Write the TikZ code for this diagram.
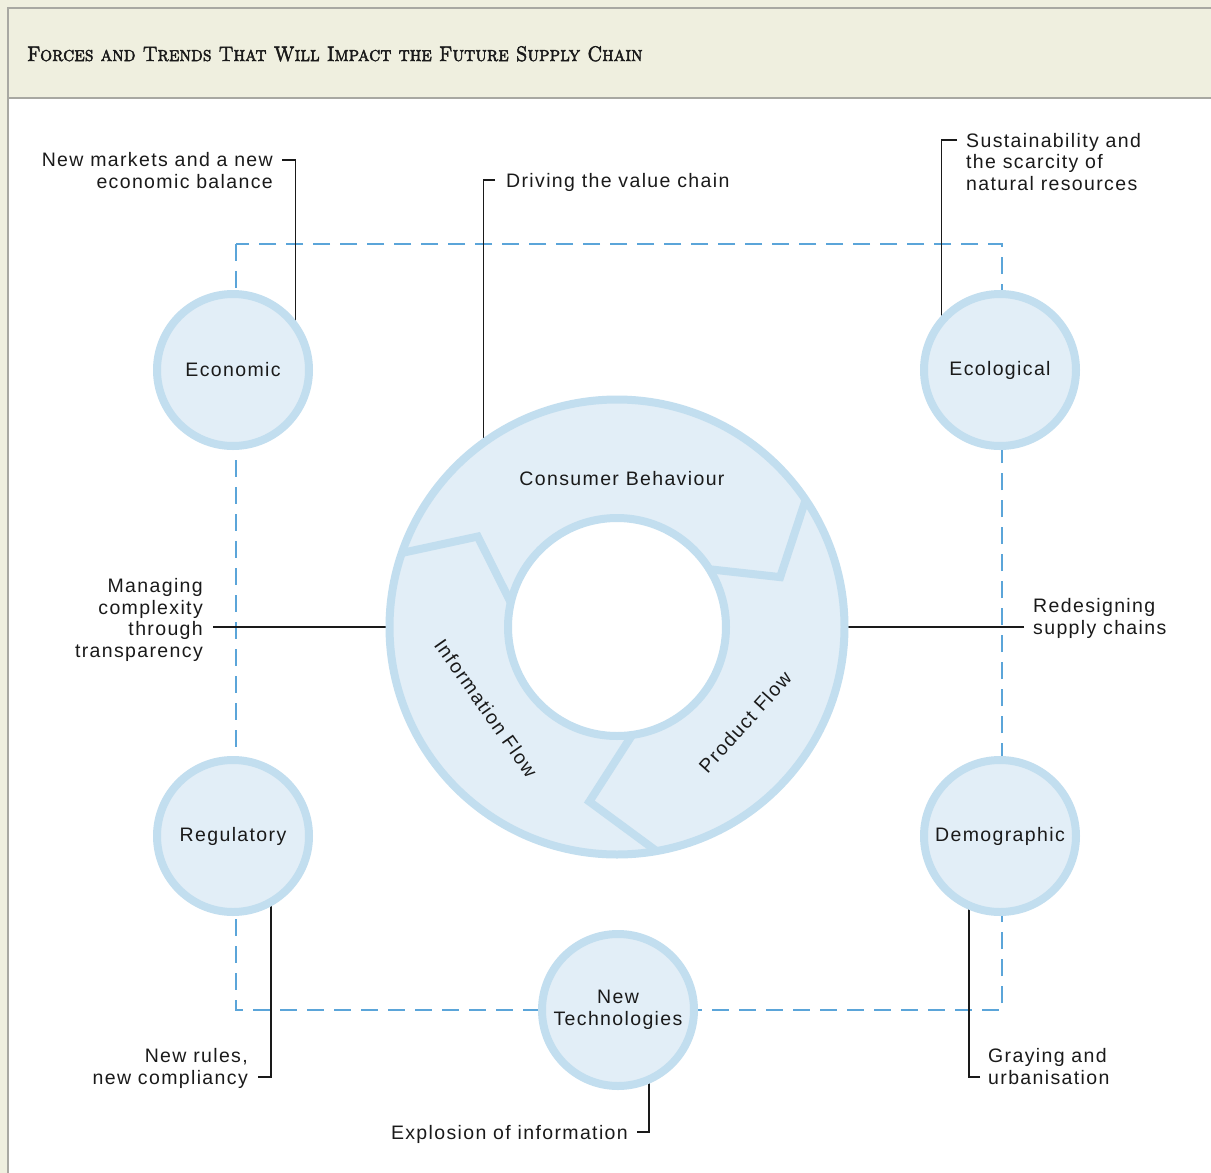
\documentclass[tikz,border=0pt]{standalone}
\usepackage{fontspec}
\usepackage{tikz}
\usetikzlibrary{calc,positioning}
\newfontfamily\labelfont[LetterSpace=7]{Liberation Sans}
\newcommand\lblsize{\fontsize{19.5}{21.5}\selectfont}
\newcommand\fakebold[1]{\special{pdf:literal direct 2 Tr 0.5 w}#1\special{pdf:literal direct 0 Tr}}
\definecolor{colorring}{HTML}{C2DEEF}
\definecolor{colorfill}{HTML}{E2EEF7}
\definecolor{colordash}{HTML}{5BA5D9}
\definecolor{colorhead}{HTML}{EFEFDF}
\definecolor{colorrule}{HTML}{A8A8A2}
\definecolor{colortext}{HTML}{1A1A1A}
\pgfdeclarelayer{bglayer}
\pgfdeclarelayer{leaderlayer}
\pgfsetlayers{bglayer,leaderlayer,main}
\tikzset{
  lbl/.style={inner sep=0pt, text=colortext, font=\labelfont\lblsize},
  force/.style={circle, draw=colorring, fill=colorfill, line width=8pt, minimum size=152pt,
    outer sep=0pt, inner sep=0pt, align=center, text=colortext, font=\labelfont\lblsize},
  wheel/.style={circle, draw=colorring, line width=8pt, outer sep=0pt, inner sep=0pt},
  divider/.style={colorring, line width=8pt, line join=miter},
  leader/.style={colortext, line width=1.2pt},
  dashframe/.style={colordash, line width=2pt, dash pattern=on 17pt off 10pt}
}

\begin{document}
\begin{tikzpicture}[x=1pt, y=-1pt]
\useasboundingbox (0,0) rectangle (1211,1173);
\begin{pgfonlayer}{bglayer}
\fill[colorhead] (0,0) rectangle (1211,1173);
\fill[white] (8,98) rectangle (1211,1173);
\draw[colorrule, line width=1.2pt] (1211,8) -- (8,8) -- (8,1173);
\draw[colorrule, line width=1.2pt] (8,98) -- (1211,98);
\draw[dashframe] (236,244) rectangle (1002,1010);
\end{pgfonlayer}
\node[anchor=base west, inner sep=0pt, xscale=0.9, text=colortext, font=\fontsize{21}{23}\selectfont\scshape] (title) at (27,61) {\fakebold{Forces and Trends That Will Impact the Future Supply Chain}};
% the wheel in the middle
\node[wheel, fill=colorfill, minimum size=455pt] (ring) at (617,627) {};
\node[wheel, fill=white, minimum size=218pt] (hub) at (617,627) {};
\draw[divider] (ring.161.25) -- ($(ring.center)!0.73!(ring.147.3)$) -- (hub.167.7);
\draw[divider] (ring.34.9) -- ($(ring.center)!0.75!(ring.17.05)$) -- (hub.32.8);
\draw[divider] (ring.280.5) -- ($(ring.center)!0.777!(ring.261.9)$) -- (hub.278.2);
\node[lbl] (cb) at (622,479) {Consumer Behaviour};
\node[lbl, rotate=-55] (info) at (486,708) {Information Flow};
\node[lbl, rotate=48] (prod) at (745,722) {Product Flow};
% the five forces
\node[force] (econ) at (233,370) {Economic};
\node[force] (eco) at (1000,370) {Ecological};
\node[force] (reg) at (233,836) {Regulatory};
\node[force] (demo) at (1000,836) {Demographic};
\node[force] (tech) at (618,1010) {New\\Technologies};
% trends (base = last line)
\node[lbl, align=right, anchor=base east] (mkt) at (273,188) {New markets and a new\\economic balance};
\node[lbl, anchor=base west] (value) at (506,187) {Driving the value chain};
\node[lbl, align=left, anchor=base west] (sust) at (966,190) {Sustainability and\\the scarcity of\\natural resources};
\node[lbl, align=right, anchor=base east] (cplx) at (203,657) {Managing\\complexity\\through\\transparency};
\node[lbl, align=left, anchor=base west] (redes) at (1033,634) {Redesigning\\supply chains};
\node[lbl, align=right, anchor=base east] (rules) at (248,1084) {New rules,\\new compliancy};
\node[lbl, align=left, anchor=base west] (gray) at (988,1084) {Graying and\\urbanisation};
\node[lbl, anchor=base east] (expl) at (628,1139) {Explosion of information};
\coordinate (mkt-end) at (282,160);
\coordinate (value-end) at (495,180);
\coordinate (sust-end) at (957,140);
\coordinate (cplx-end) at (213,627);
\coordinate (redes-end) at (1024,627);
\coordinate (rules-end) at (258,1077);
\coordinate (gray-end) at (980,1077);
\coordinate (expl-end) at (637,1132);
\begin{pgfonlayer}{leaderlayer}
\draw[leader] (mkt-end) -| (econ.35.3);
\draw[leader] (value-end) -| (ring.126.1);
\draw[leader] (sust-end) -| (eco.140.9);
\draw[leader] (cplx-end) -- (ring.west);
\draw[leader] (redes-end) -- (ring.east);
\draw[leader] (rules-end) -| (reg.-60.9);
\draw[leader] (gray-end) -| (demo.-114.1);
\draw[leader] (expl-end) -| (tech.-66.8);
\end{pgfonlayer}
\end{tikzpicture}
\end{document}
